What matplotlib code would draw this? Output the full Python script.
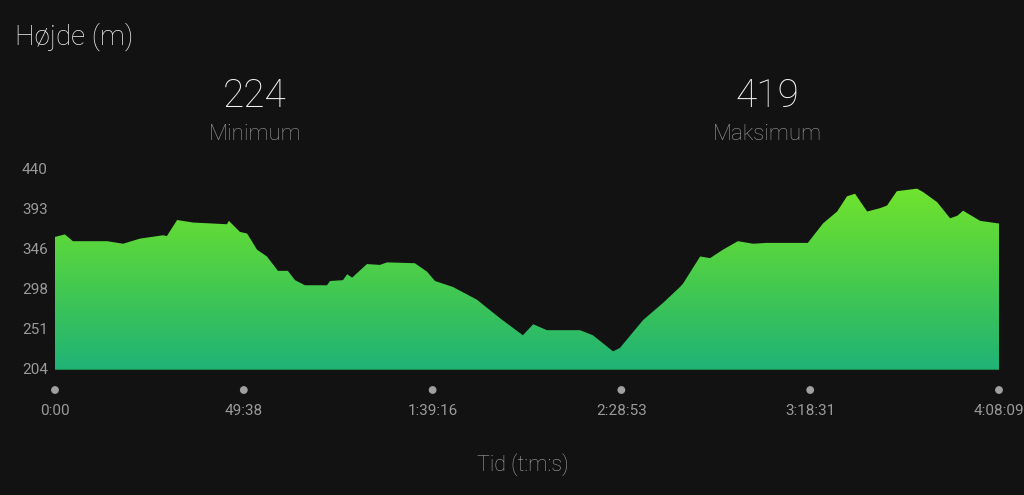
import matplotlib
matplotlib.use("Agg")
import matplotlib.pyplot as plt
import numpy as np
from matplotlib.colors import LinearSegmentedColormap

# ---- data (time in minutes, elevation in m) ----
time_min = [0, 0.8, 2.6, 4.7, 13.7, 17.9, 22.3, 28.4, 29.4, 32.1, 36.3, 45.2, 45.7,
            48.6, 50.5, 53.1, 55.7, 58.6, 61.2, 63.1, 65.7, 71.5, 72.3, 75.7, 76.8,
            78.1, 82.0, 85.4, 87.3, 94.6, 97.8, 99.9, 104.6, 110.9, 117.0, 123.0,
            125.7, 129.3, 138.0, 141.4, 146.7, 148.5, 154.6, 159.8, 164.3, 165.1,
            169.6, 172.2, 175.6, 179.5, 183.5, 187.2, 197.9, 201.9, 205.6, 208.2,
            210.3, 213.5, 216.9, 218.7, 221.3, 226.6, 228.2, 231.9, 235.3, 237.2,
            238.7, 243.2, 247.9, 248.15]
elev_m = [361, 362, 364, 356, 356, 353, 359, 363, 362, 381, 378, 376, 380,
          367, 365, 346, 338, 321, 321, 310, 304, 304, 309, 310, 317,
          313, 329, 328, 331, 330, 320, 309, 302, 287, 265, 245,
          258, 251, 251, 245, 226, 230, 263, 283, 302, 306,
          338, 336, 346, 356, 353, 354, 354, 377, 391, 409,
          412, 391, 395, 398, 415, 418, 414, 402, 383, 386,
          392, 380, 377, 377]

y_ticks = [204, 251, 298, 346, 393, 440]
x_ticks_min = [0, 49.63, 99.27, 148.88, 198.52, 248.15]
x_tick_labels = ["0:00", "49:38", "1:39:16", "2:28:53", "3:18:31", "4:08:09"]

title = "Højde (m)"
stat_values = ["224", "419"]
stat_labels = ["Minimum", "Maksimum"]
x_label = "Tid (t:m:s)"

BG = "#121212"
GREY = "#9a9a9a"
FONT = ["Roboto", "DejaVu Sans"]

fig = plt.figure(figsize=(10.24, 4.95), dpi=100, facecolor=BG)
ax = fig.add_axes([55 / 1024, 1 - 370 / 495, 944 / 1024, 200 / 495])
ax.set_facecolor(BG)
ax.set_xlim(0, 248.15)
ax.set_ylim(204, 440)

# gradient fill clipped to the profile
cmap = LinearSegmentedColormap.from_list("g", ["#1fb377", "#3cc457", "#5bd73c", "#78e82a"])
grad = np.linspace(0, 1, 256).reshape(-1, 1)
im = ax.imshow(grad, extent=[0, 248.15, 204, 440], origin="lower", aspect="auto",
               cmap=cmap, zorder=2)
poly = ax.fill_between(time_min, elev_m, 204, color="none", lw=0)
path = poly.get_paths()[0]
im.set_clip_path(path, transform=ax.transData)
ax.axhline(204, color="#1f8a4a", lw=1.5, zorder=3)

for s in ax.spines.values():
    s.set_visible(False)
ax.set_xticks([])
ax.set_yticks([])

# y tick labels
for v in y_ticks:
    fig.text(22 / 1024, 1 - (370 - (v - 204) / 236 * 200) / 495, str(v),
             color=GREY, fontsize=11, ha="left", va="center", family=FONT)

# x tick dots and labels
for t, lab in zip(x_ticks_min, x_tick_labels):
    xf = (55 + t / 248.15 * 944) / 1024
    fig.patches.append(plt.Circle((xf * 1024, 495 - 390), 3.2, color="#a0a0a0",
                                  transform=None, figure=fig))
    fig.text(xf, 1 - 411 / 495, lab, color=GREY, fontsize=11, ha="center",
             va="center", family=FONT)

fig.text(15 / 1024, 1 - 37 / 495, title, color="#f0f0f0", fontsize=20,
         ha="left", va="center", family=FONT, fontweight="light")
for xc, v, lab in zip([255, 767], stat_values, stat_labels):
    fig.text(xc / 1024, 1 - 96 / 495, v, color="#f4f4f4", fontsize=28,
             ha="center", va="center", family=FONT, fontweight="light")
    fig.text(xc / 1024, 1 - 134 / 495, lab, color=GREY, fontsize=16,
             ha="center", va="center", family=FONT, fontweight="light")

fig.text(523 / 1024, 1 - 465 / 495, x_label, color="#a4a4a4", fontsize=15.5,
         ha="center", va="center", family=FONT, fontweight="light")

fig.savefig("out.png", dpi=100, facecolor=BG)
